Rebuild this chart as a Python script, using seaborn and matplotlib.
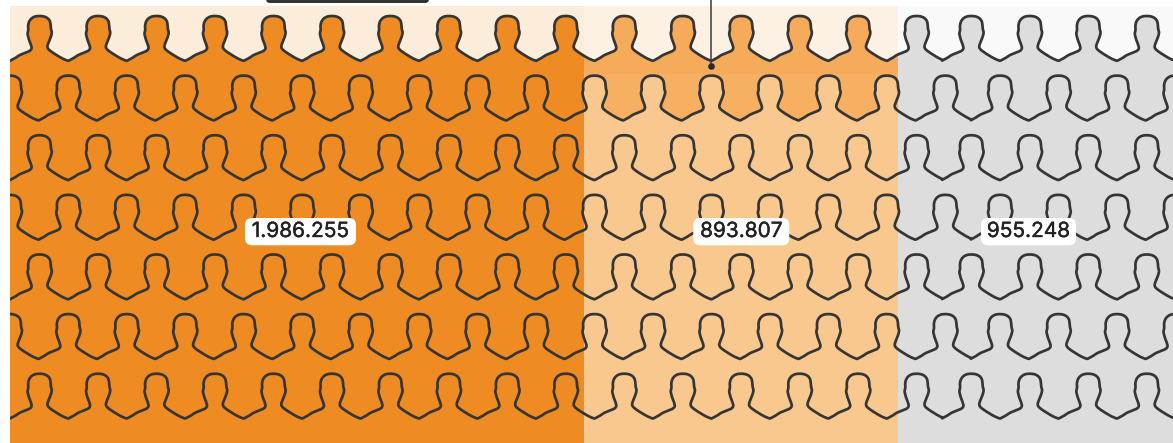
import numpy as np
import matplotlib
matplotlib.use("Agg")
import matplotlib.pyplot as plt
import matplotlib.patheffects as pe
from matplotlib.patches import FancyBboxPatch, Rectangle, Polygon
import seaborn as sns

# ---- data ----
segment_names = ["A", "B", "C"]
segment_widths = [574.5, 314.0, 275.0]          # drawn band lengths
segment_labels = ["1.986.255", "893.807", "955.248"]
segment_colors = ["#EE8B22", "#F9C88F", "#DDDDDD"]
label_centres = [300.5, 741.3, 1028.5]
label_halfwidths = [55.5, 48.0, 47.5]

W, H = 1173, 443
LEFT, TOP = 9.5, 6.0

sns.set_theme(style="white")
plt.rcParams["font.family"] = ["Inter", "DejaVu Sans"]

fig = plt.figure(figsize=(W / 100, H / 100), dpi=100)
fig.patch.set_facecolor("white")

# stacked bar: drawn from the longest cumulative length down
ax = fig.add_axes([LEFT / W, 0, (W - LEFT) / W, (H - TOP) / H])
cum = np.cumsum(segment_widths)
for i in reversed(range(3)):
    sns.barplot(x=[cum[i]], y=["all"], orient="h", width=1.0, color=segment_colors[i],
                saturation=1, ax=ax, linewidth=0)
ax.set_xlim(0, W - LEFT)
ax.set_ylim(0.5, -0.5)
ax.axis("off")

# overlay in pixel coordinates
ov = fig.add_axes([0, 0, 1, 1], facecolor="none")
ov.set_xlim(0, W)
ov.set_ylim(H, 0)
ov.axis("off")

# one person outline: (dx from head centre, dy from head top)
outline = np.array([
    (-29.2, 44.6), (-24.0, 41.8), (-19.7, 39.0), (-14.0, 36.8), (-9.8, 34.8), (-8.0, 32.4),
    (-8.6, 29.0), (-10.0, 25.5), (-11.2, 21.5), (-12.0, 17.5), (-11.3, 14.0), (-11.4, 9.5),
    (-10.4, 5.6), (-8.0, 2.4), (-4.4, 0.5), (0.0, 0.0), (4.4, 0.5), (8.2, 2.4),
    (10.6, 6.0), (11.3, 12.5), (12.2, 16.5), (11.2, 21.0), (9.2, 26.0), (7.9, 30.0),
    (8.6, 32.8), (12.0, 35.8), (18.5, 40.0), (23.5, 42.8), (28.4, 44.8),
])


def smooth(pts, n=6):
    p = np.vstack([pts[0], pts, pts[-1]])
    out = []
    for i in range(1, len(p) - 2):
        for t in np.linspace(0, 1, n, endpoint=False):
            out.append(0.5 * (2 * p[i] + (p[i + 1] - p[i - 1]) * t
                              + (2 * p[i - 1] - 5 * p[i] + 4 * p[i + 1] - p[i + 2]) * t ** 2
                              + (3 * p[i] - p[i - 1] - 3 * p[i + 1] + p[i + 2]) * t ** 3))
    out.append(pts[-1])
    return np.array(out)


tile = smooth(outline)
PERIOD = 58.47
ROW_PITCH = 59.62
HEAD_TOP = 16.0
SHIFT = -3.7
TILE_LEFT = tile[0, 0]


def row_curve(row):
    start = -18.9 if row % 2 == 0 else 9.8
    tops = HEAD_TOP + row * ROW_PITCH
    centres = start + PERIOD * np.arange(23)
    centres = np.where(centres > 950, centres + SHIFT, centres)
    xs, ys = [], []
    for k, cx in enumerate(centres):
        keep = np.ones(len(tile), bool)
        if k + 1 < len(centres):
            keep = tile[:, 0] + cx <= centres[k + 1] + TILE_LEFT
        xs.append(tile[keep, 0] + cx)
        ys.append(tile[keep, 1] + tops)
    return np.concatenate(xs), np.concatenate(ys)


edges = [LEFT, LEFT + cum[0], LEFT + cum[1], LEFT + cum[2]]

x0, y0 = row_curve(0)
x1, y1 = row_curve(1)

# second segment: darker part above the second row of people
clip_b = Rectangle((edges[1], TOP), edges[2] - edges[1], H, transform=ov.transData)
poly = Polygon(np.column_stack([np.r_[x1, x1[-1], x1[0]], np.r_[y1, 0, 0]]), closed=True,
               facecolor="#F7AF61", edgecolor="none", zorder=1)
ov.add_patch(poly)
poly.set_clip_path(clip_b)
band = ov.add_patch(Rectangle((edges[1], TOP), edges[2] - edges[1], 74 - TOP,
                              facecolor="#F5A650", alpha=0.4, edgecolor="none", zorder=1.5))

# pale band above the first row of people
clip_all = Rectangle((LEFT, TOP), W - LEFT, H, transform=ov.transData)
mask = Polygon(np.column_stack([np.r_[x0, x0[-1], x0[0]], np.r_[y0, 0, 0]]), closed=True,
               facecolor="white", alpha=0.84, edgecolor="none", zorder=2)
ov.add_patch(mask)
mask.set_clip_path(clip_all)

# outlines
for r in range(7):
    xr, yr = row_curve(r)
    line, = ov.plot(xr, yr, color="#353535", lw=1.95, solid_joinstyle="round", zorder=3)
    line.set_clip_path(clip_all)

# annotation leader + top tooltip edge
ov.plot([711, 711], [0, 66], color="#3A3A3A", lw=1.1, zorder=4)
ov.plot([711], [66], "o", color="#2B2B2B", ms=4.8, mew=0, zorder=4)
ov.add_patch(FancyBboxPatch((266, -12), 163, 15, boxstyle="round,pad=0,rounding_size=4",
                            facecolor="#333333", edgecolor="none", zorder=5))

# value labels
for cx, hw, s in zip(label_centres, label_halfwidths, segment_labels):
    ov.add_patch(FancyBboxPatch((cx - hw, 218), 2 * hw, 27.3,
                                boxstyle="round,pad=0,rounding_size=7",
                                facecolor="white", edgecolor="none", zorder=6))
    t = ov.text(cx, 231.0, s, ha="center", va="center", fontsize=15, color="#222222", zorder=7)
    t.set_path_effects([pe.withStroke(linewidth=0.3, foreground="#222222")])

fig.savefig("out.png", dpi=100, facecolor="white")
